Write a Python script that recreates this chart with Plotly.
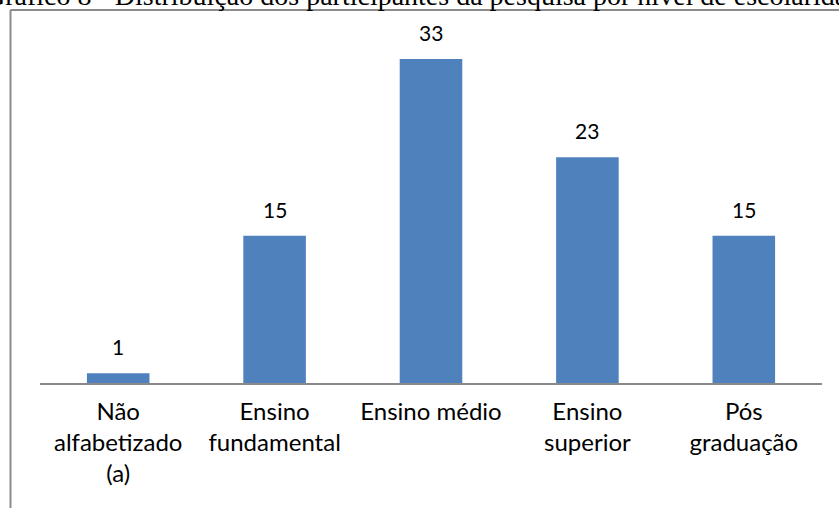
import plotly.graph_objects as go

categories = ["Não<br>alfabetizado<br>(a)", "Ensino<br>fundamental", "Ensino médio", "Ensino<br>superior", "Pós<br>graduação"]
values = [1, 15, 33, 23, 15]
title_text = "Gráfico 8 - Distribuição dos participantes da pesquisa por nível de escolaridade"

W, H = 839, 508
L, R, T, B = 40, 17, 20, 125
plot_h = H - T - B
plot_w = W - L - R

def px_x(X):
    return (X - L) / plot_w

def px_y(Y):
    return (H - B - Y) / plot_h

fig = go.Figure()
fig.add_trace(go.Bar(x=categories, y=values, marker_color="#4F81BD", marker_line_width=0))

for c, v in zip(categories, values):
    fig.add_annotation(x=c, y=v, text=str(v), showarrow=False, yanchor="bottom", yshift=12,
                       font=dict(family="Lato", size=21, color="#000000"))

fig.add_annotation(xref="paper", yref="paper", x=px_x(429), y=px_y(13), text=title_text,
                   showarrow=False, xanchor="center", yanchor="bottom",
                   font=dict(family="Liberation Serif", size=28, color="#000000"))

fig.add_shape(type="line", xref="paper", yref="paper", x0=px_x(10.5), x1=px_x(900),
              y0=px_y(10), y1=px_y(10), line=dict(color="#8c8c8c", width=2))
fig.add_shape(type="line", xref="paper", yref="paper", x0=px_x(10.5), x1=px_x(10.5),
              y0=px_y(10), y1=px_y(600), line=dict(color="#8c8c8c", width=2))

fig.update_layout(
    width=W, height=H,
    margin=dict(l=L, r=R, t=T, b=B),
    paper_bgcolor="white", plot_bgcolor="white",
    bargap=0.6, showlegend=False,
    font=dict(family="Lato", size=21, color="#000000"),
)
fig.update_xaxes(showline=True, linecolor="#898989", linewidth=1.5, ticks="", showgrid=False,
                 tickfont=dict(family="Lato", size=24, color="#000000"), ticklabelstandoff=6)
fig.update_yaxes(range=[0, 363 / 9.82], visible=False, showgrid=False)

fig.write_html("out.html")
